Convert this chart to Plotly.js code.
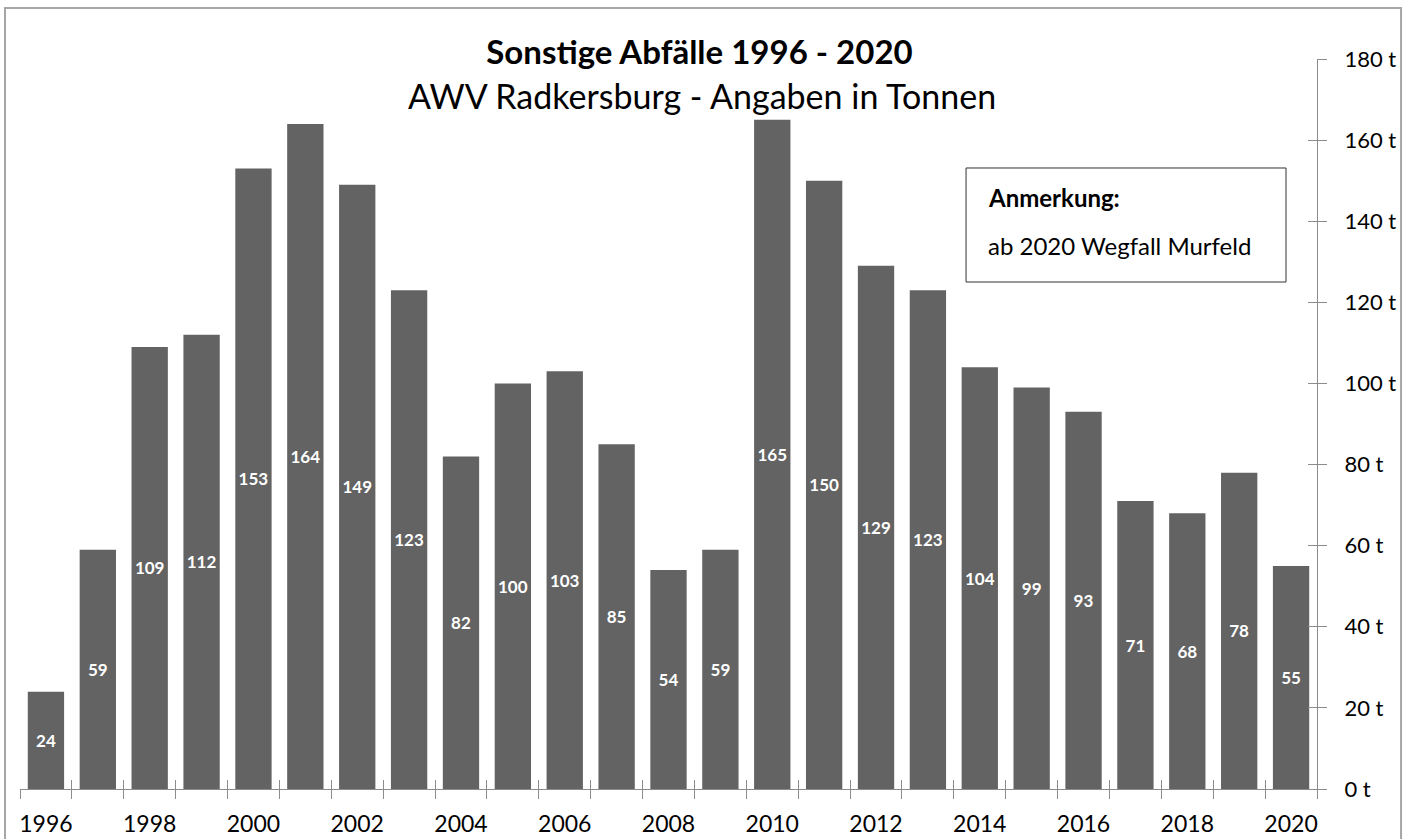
<!DOCTYPE html>
<html>
<head>
<meta charset="utf-8">
<script src="https://cdn.plot.ly/plotly-3.0.1.min.js"></script>
<style>
html,body{margin:0;padding:0;background:#fff;}
#chart{width:1416px;height:839px;}
</style>
</head>
<body>
<div id="chart"></div>
<script>
const years = [1996,1997,1998,1999,2000,2001,2002,2003,2004,2005,2006,2007,2008,2009,2010,2011,2012,2013,2014,2015,2016,2017,2018,2019,2020];
const tonnes = [24,59,109,112,153,164,149,123,82,100,103,85,54,59,165,150,129,123,104,99,93,71,68,78,55];
const xTickLabels = ['1996','1998','2000','2002','2004','2006','2008','2010','2012','2014','2016','2018','2020'];
const xTickVals = [1996,1998,2000,2002,2004,2006,2008,2010,2012,2014,2016,2018,2020];
const yTickVals = [0,20,40,60,80,100,120,140,160,180];
const yTickLabels = ['0 t','20 t','40 t','60 t','80 t','100 t','120 t','140 t','160 t','180 t'];
const titleText = 'Sonstige Abfälle 1996 - 2020';
const subtitleText = 'AWV Radkersburg - Angaben in Tonnen';
const noteTitle = 'Anmerkung:';
const noteText = 'ab 2020 Wegfall Murfeld';

const boundaries = [years[0]-0.5].concat(years.map(y => y+0.5));
const FONT = 'Lato, Carlito, Calibri, sans-serif';
const AX = '#8c8c8c';

const dummy = (xa, ya) => ({type:'scatter', x:[years[0]], y:[0], xaxis:xa, yaxis:ya,
  mode:'markers', marker:{opacity:0}, hoverinfo:'skip', showlegend:false});

const traces = [{
  type:'bar', x:years, y:tonnes,
  marker:{color:'#636363', line:{width:0}},
  text:tonnes.map(String), textposition:'inside', insidetextanchor:'middle',
  textangle:0, constraintext:'none',
  textfont:{family:FONT, size:17, color:'#ffffff', weight:'bold'},
  hoverinfo:'x+y', cliponaxis:false
}, dummy('x2','y2'), dummy('x2','y3')];

const layout = {
  width:1416, height:839,
  margin:{l:20, r:99, t:59, b:50},
  paper_bgcolor:'#fff', plot_bgcolor:'#fff',
  showlegend:false, bargap:0.3,
  font:{family:FONT, color:'#000'},
  title:{text:'<b>'+titleText+'</b>', font:{family:FONT, size:33, color:'#000'},
         x:0.494, xanchor:'center', xref:'container', y:0.938, yanchor:'middle', yref:'container'},
  xaxis:{
    range:[1995.5,2020.5], tickmode:'array', tickvals:xTickVals, ticktext:xTickLabels,
    ticks:'', showline:true, linecolor:AX, linewidth:1, showgrid:false, zeroline:false,
    tickfont:{family:FONT, size:23, color:'#000'},
    minor:{tickmode:'array', tickvals:boundaries, ticks:'outside', ticklen:9, tickcolor:AX, tickwidth:1, showgrid:false},
    ticklabelstandoff:14, fixedrange:true
  },
  xaxis2:{
    overlaying:'x', matches:'x', range:[1995.5,2020.5], tickmode:'array', tickvals:boundaries,
    ticks:'inside', ticklen:9, tickcolor:AX, showticklabels:false, showline:false, showgrid:false, zeroline:false, side:'bottom'
  },
  yaxis:{
    range:[0,180], side:'right', tickmode:'array', tickvals:yTickVals, ticktext:yTickLabels,
    ticks:'outside', ticklen:22, tickcolor:'rgba(0,0,0,0)', showline:true, linecolor:AX, linewidth:1,
    showgrid:false, zeroline:false, tickfont:{family:FONT, size:22, color:'#000'}
  },
  yaxis2:{
    overlaying:'y', matches:'y', range:[0,180], side:'right', tickmode:'array', tickvals:yTickVals,
    ticks:'outside', ticklen:9, tickcolor:AX, showticklabels:false, showline:false, showgrid:false, zeroline:false
  },
  yaxis3:{
    overlaying:'y', matches:'y', range:[0,180], side:'right', tickmode:'array', tickvals:yTickVals,
    ticks:'inside', ticklen:9, tickcolor:AX, showticklabels:false, showline:false, showgrid:false, zeroline:false
  },
  shapes:[
    {type:'rect', xref:'paper', yref:'paper', x0:-0.01157, x1:1.0648, y0:-0.09, y1:1.0699,
     line:{color:'#a6a6a6', width:2}, fillcolor:'rgba(0,0,0,0)', layer:'below'},
    {type:'rect', xref:'paper', yref:'paper', x0:0.7294, x1:0.9761, y0:0.6945, y1:0.8507,
     line:{color:'#333', width:1}, fillcolor:'#fff', layer:'above'}
  ],
  annotations:[
    {text:subtitleText, xref:'paper', yref:'paper', x:(702-20)/1297, y:(789-95)/730, xanchor:'center', yanchor:'middle',
     showarrow:false, font:{family:FONT, size:34, color:'#000'}},
    {text:'<b>'+noteTitle+'</b>', xref:'paper', yref:'paper', x:0.7448, y:0.8096, xanchor:'left', yanchor:'middle',
     showarrow:false, font:{family:FONT, size:24, color:'#000'}},
    {text:noteText, xref:'paper', yref:'paper', x:0.7448, y:0.7452, xanchor:'left', yanchor:'middle',
     showarrow:false, font:{family:FONT, size:24, color:'#000'}}
  ]
};

Plotly.newPlot('chart', traces, layout, {displayModeBar:false, staticPlot:true});
</script>
</body>
</html>
